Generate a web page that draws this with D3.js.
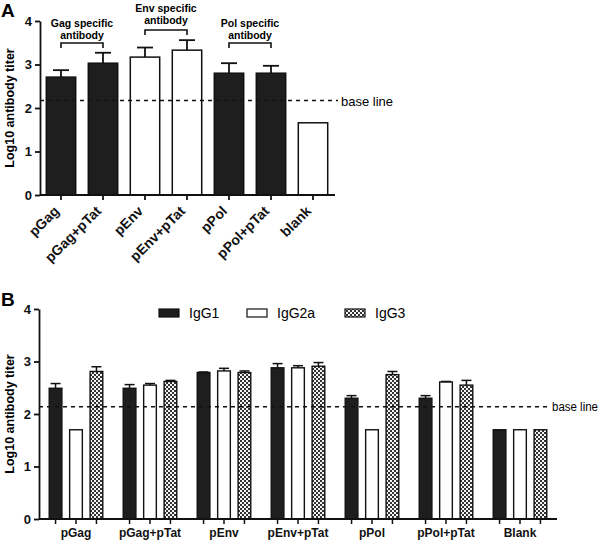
<!DOCTYPE html>
<html><head><meta charset="utf-8">
<script src="https://cdn.jsdelivr.net/npm/d3@7"></script>
<style>
body{margin:0;background:#fff;}
svg{display:block;font-family:Arial,"Liberation Sans",sans-serif;}
</style></head>
<body><svg id="c" width="600" height="544"></svg>
<script>
// ---- Panel A data ----
const catsA = ["pGag","pGag+pTat","pEnv","pEnv+pTat","pPol","pPol+pTat","blank"];
const valsA = [2.71,3.03,3.17,3.33,2.80,2.80,1.66];
const errA  = [0.16,0.24,0.22,0.23,0.23,0.17,0];
const fillA = ["dark","dark","white","white","dark","dark","white"];
const bracketsA = [
  {from:"pGag",to:"pGag+pTat",lines:["Gag specific","antibody"]},
  {from:"pEnv",to:"pEnv+pTat",lines:["Env specific","antibody"]},
  {from:"pPol",to:"pPol+pTat",lines:["Pol specific","antibody"]}
];
const baseA = 2.17;
const ticksY = [0,1,2,3,4];

// ---- Panel B data ----
const catsB = ["pGag","pGag+pTat","pEnv","pEnv+pTat","pPol","pPol+pTat","Blank"];
const seriesB = ["IgG1","IgG2a","IgG3"];
const igg1 = [2.49,2.49,2.79,2.88,2.30,2.30,1.70];
const igg1Err = [0.09,0.07,0.01,0.08,0.05,0.05,0];
const igg2a = [1.70,2.55,2.82,2.88,1.70,2.61,1.70];
const igg2aErr = [0,0.03,0.05,0.04,0,0.01,0];
const igg3 = [2.81,2.62,2.79,2.91,2.75,2.55,1.70];
const igg3Err = [0.09,0.02,0.03,0.07,0.06,0.09,0];
const baseB = 2.14;

const svg = d3.select("#c");
const defs = svg.append("defs");
const pat = defs.append("pattern").attr("id","chk").attr("patternUnits","userSpaceOnUse")
  .attr("width",4).attr("height",4);
pat.append("rect").attr("width",4).attr("height",4).attr("fill","#f4f4f4");
pat.append("rect").attr("width",2).attr("height",2).attr("fill","#333");
pat.append("rect").attr("x",2).attr("y",2).attr("width",2).attr("height",2).attr("fill","#333");
const fills = {dark:"#1e1e1e", white:"#fff", chk:"url(#chk)"};

// ================= Panel A =================
const xA = d3.scaleBand().domain(catsA).range([40,334]).paddingInner(0.3).paddingOuter(0.15);
const yA = d3.scaleLinear().domain([0,4]).range([195,21]);
const gA = svg.append("g");

gA.selectAll("rect.bar").data(catsA).join("rect")
  .attr("x",d=>xA(d)).attr("width",xA.bandwidth())
  .attr("y",(d,i)=>yA(valsA[i])).attr("height",(d,i)=>yA(0)-yA(valsA[i]))
  .attr("fill",(d,i)=>fills[fillA[i]]).attr("stroke","#111").attr("stroke-width",1.5);
catsA.forEach((c,i)=>{
  if(!errA[i]) return;
  const cx = xA(c)+xA.bandwidth()/2;
  gA.append("line").attr("x1",cx).attr("x2",cx).attr("y1",yA(valsA[i])).attr("y2",yA(valsA[i]+errA[i])).attr("stroke","#111").attr("stroke-width",1.8);
  gA.append("line").attr("x1",cx-8).attr("x2",cx+8).attr("y1",yA(valsA[i]+errA[i])).attr("y2",yA(valsA[i]+errA[i])).attr("stroke","#111").attr("stroke-width",1.8);
});
// baseline
gA.append("line").attr("x1",40).attr("x2",338).attr("y1",yA(baseA)).attr("y2",yA(baseA))
  .attr("stroke","#111").attr("stroke-width",1.5).attr("stroke-dasharray","4,4");
gA.append("text").attr("x",341).attr("y",yA(baseA)+5).attr("font-size",13).text("base line");

// axes
const axYA = gA.append("g").attr("transform","translate(40,0)")
  .call(d3.axisLeft(yA).tickValues(ticksY).tickFormat(d3.format("d")).tickSize(5).tickSizeOuter(0));
axYA.selectAll("text").attr("font-size",13).attr("font-weight","bold").attr("fill","#111").attr("font-family","Arial, sans-serif");
axYA.selectAll("line,path").attr("stroke","#111").attr("stroke-width",1.8);
const axXA = gA.append("g").attr("transform","translate(0,195)")
  .call(d3.axisBottom(xA).tickSize(5).tickSizeOuter(0));
axXA.select("path").attr("d","M40,0H335");
axXA.selectAll("line,path").attr("stroke","#111").attr("stroke-width",1.8);
axXA.selectAll("text").attr("font-size",14).attr("font-weight","bold").attr("fill","#111")
  .attr("font-family","Arial, sans-serif")
  .attr("text-anchor","end").attr("dy",null).attr("y",0)
  .attr("transform","translate(-1,17) rotate(-45)");

// brackets
bracketsA.forEach((b,k)=>{
  const x1 = xA(b.from)+xA.bandwidth()/2, x2 = xA(b.to)+xA.bandwidth()/2;
  const by = k===1 ? 30 : 43;
  gA.append("path").attr("d",`M${x1},${by+5}V${by}H${x2}V${by+5}`).attr("fill","none").attr("stroke","#111").attr("stroke-width",1.6);
  const cx=(x1+x2)/2;
  b.lines.forEach((t,j)=>gA.append("text").attr("x",cx).attr("y",by-(k===1?18:16)+j*12).attr("text-anchor","middle")
    .attr("font-size",10.5).attr("font-weight","bold").text(t));
});
gA.append("text").attr("x",14).attr("y",yA(2)).attr("transform",`rotate(-90,14,${yA(2)})`)
  .attr("text-anchor","middle").attr("font-size",12.5).attr("font-weight","bold").text("Log10 antibody titer");
gA.append("text").attr("x",1).attr("y",17).attr("font-size",19).attr("font-weight","bold").text("A");

// ================= Panel B =================
const x0 = d3.scaleBand().domain(catsB).range([39,557]).paddingInner(0).paddingOuter(0);
const x1 = d3.scaleBand().domain(seriesB).range([0,x0.bandwidth()]).paddingInner(0.38).paddingOuter(0.5);
const yB = d3.scaleLinear().domain([0,4]).range([519,309]);
const gB = svg.append("g");
const dataB = [igg1,igg2a,igg3], errB=[igg1Err,igg2aErr,igg3Err], fillB=["dark","white","chk"];

seriesB.forEach((s,k)=>{
  catsB.forEach((c,i)=>{
    const v = dataB[k][i], e = errB[k][i];
    const x = x0(c)+x1(s);
    gB.append("rect").attr("x",x).attr("width",x1.bandwidth()).attr("y",yB(v)).attr("height",yB(0)-yB(v))
      .attr("fill",fills[fillB[k]]).attr("stroke","#111").attr("stroke-width",1.4);
    if(e>0){
      const cx=x+x1.bandwidth()/2;
      gB.append("line").attr("x1",cx).attr("x2",cx).attr("y1",yB(v)).attr("y2",yB(v+e)).attr("stroke","#111").attr("stroke-width",1.5);
      gB.append("line").attr("x1",cx-5).attr("x2",cx+5).attr("y1",yB(v+e)).attr("y2",yB(v+e)).attr("stroke","#111").attr("stroke-width",1.5);
    }
  });
});
gB.append("line").attr("x1",39).attr("x2",551).attr("y1",yB(baseB)).attr("y2",yB(baseB))
  .attr("stroke","#111").attr("stroke-width",1.5).attr("stroke-dasharray","4,4");
gB.append("text").attr("x",552).attr("y",yB(baseB)+4).attr("font-size",12).attr("textLength",46)
  .attr("lengthAdjust","spacingAndGlyphs").text("base line");

const axYB = gB.append("g").attr("transform","translate(39,0)")
  .call(d3.axisLeft(yB).tickValues(ticksY).tickFormat(d3.format("d")).tickSize(5).tickSizeOuter(0));
axYB.selectAll("text").attr("font-size",13).attr("font-weight","bold").attr("fill","#111").attr("font-family","Arial, sans-serif");
axYB.selectAll("line,path").attr("stroke","#111").attr("stroke-width",1.8);
const axXB = gB.append("g").attr("transform","translate(0,519)");
axXB.append("path").attr("d","M39,0H557").attr("stroke","#111").attr("stroke-width",1.8);
catsB.forEach(c=>seriesB.forEach(s=>{
  const cx=x0(c)+x1(s)+x1.bandwidth()/2;
  axXB.append("line").attr("x1",cx).attr("x2",cx).attr("y1",0).attr("y2",5).attr("stroke","#111").attr("stroke-width",1.5);
}));
catsB.forEach(c=>axXB.append("text").attr("x",x0(c)+x0.bandwidth()/2).attr("y",18).attr("text-anchor","middle")
  .attr("font-size",12).attr("font-weight","bold").attr("fill","#111").text(c));

gB.append("text").attr("x",14).attr("y",yB(2)).attr("transform",`rotate(-90,14,${yB(2)})`)
  .attr("text-anchor","middle").attr("font-size",12.5).attr("font-weight","bold").text("Log10 antibody titer");
gB.append("text").attr("x",1).attr("y",306).attr("font-size",19).attr("font-weight","bold").text("B");

// legend
const legX = [159,247,345];
seriesB.forEach((s,k)=>{
  gB.append("rect").attr("x",legX[k]).attr("y",309).attr("width",20).attr("height",8)
    .attr("fill",fills[fillB[k]]).attr("stroke","#111").attr("stroke-width",1.2);
  gB.append("text").attr("x",legX[k]+30).attr("y",318).attr("font-size",14).text(s);
});
</script></body></html>
